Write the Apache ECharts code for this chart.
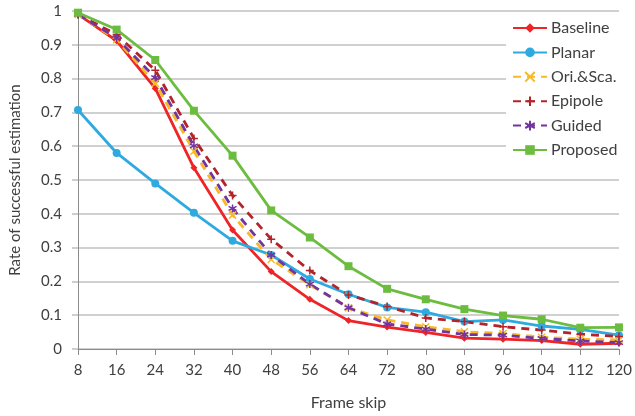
<!DOCTYPE html>
<html>
<head>
<meta charset="utf-8">
<script src="https://cdn.jsdelivr.net/npm/echarts@6/dist/echarts.min.js"></script>
<style>html,body{margin:0;padding:0;background:#fff}#c{width:635px;height:416px}</style>
</head>
<body>
<div id="c"></div>
<script>
const categories = ['8','16','24','32','40','48','56','64','72','80','88','96','104','112','120'];
const baseline = [0.99,0.912,0.771,0.536,0.352,0.229,0.147,0.084,0.065,0.049,0.032,0.029,0.025,0.014,0.017];
const planar   = [0.707,0.58,0.49,0.403,0.32,0.278,0.207,0.162,0.123,0.109,0.081,0.086,0.068,0.058,0.041];
const oriSca   = [0.99,0.915,0.786,0.585,0.396,0.265,0.19,0.122,0.086,0.066,0.051,0.046,0.035,0.029,0.027];
const epipole  = [0.99,0.93,0.825,0.623,0.454,0.325,0.232,0.16,0.126,0.092,0.081,0.066,0.056,0.044,0.037];
const guided   = [0.99,0.92,0.803,0.601,0.416,0.278,0.192,0.122,0.074,0.059,0.043,0.041,0.031,0.024,0.019];
const proposed = [0.995,0.945,0.855,0.705,0.572,0.41,0.33,0.245,0.178,0.147,0.118,0.099,0.088,0.063,0.064];
const yTicks = [0,0.1,0.2,0.3,0.4,0.5,0.6,0.7,0.8,0.9,1];

const FONT = 'Lato';
const TXT = '#404040';
const X_MARK = 'path://M0,0L10,10M10,0L0,10';
const PLUS_MARK = 'path://M5,0L5,10M0,5L10,5';
const STAR_MARK = 'path://M5,0L5,10M0,2.5L10,7.5M10,2.5L0,7.5';

function mk(name, data, color, symbol, size, dashed) {
  return {
    name: name, type: 'line', data: data,
    symbol: symbol, symbolSize: size, showSymbol: true,
    lineStyle: { color: color, width: 2.8, type: dashed ? [8, 6] : 'solid', cap: 'butt' },
    itemStyle: { color: color, borderColor: color, borderWidth: (symbol.indexOf('path') === 0) ? 1.5 : 0 },
    emphasis: { disabled: true },
    animation: false
  };
}

const chart = echarts.init(document.getElementById('c'), null, { renderer: 'canvas' });
chart.setOption({
  backgroundColor: '#fff',
  animation: false,
  grid: { left: 78, right: 15, top: 11, bottom: 67 },
  legend: {
    orient: 'vertical', left: 506, top: 18,
    backgroundColor: '#fff', padding: [2, 6, 6, 6],
    itemWidth: 34, itemHeight: 12, itemGap: 8.4,
    textStyle: { fontFamily: FONT, fontSize: 16, color: TXT, padding: [0, 0, 0, -1] },
    data: ['Baseline','Planar','Ori.&Sca.','Epipole','Guided','Proposed']
  },
  xAxis: {
    type: 'category', data: categories, boundaryGap: false,
    name: 'Frame skip', nameLocation: 'middle', nameGap: 46,
    nameTextStyle: { fontFamily: FONT, fontSize: 16, color: TXT },
    axisLine: { lineStyle: { color: '#8c8c8c', width: 1 } },
    axisTick: { show: true, length: 6, lineStyle: { color: '#8c8c8c' } },
    axisLabel: { fontFamily: FONT, fontSize: 15, color: TXT, margin: 14 },
    splitLine: { show: false }
  },
  yAxis: {
    type: 'value', min: 0, max: 1, interval: 0.1,
    name: 'Rate of successful estimation', nameLocation: 'middle', nameGap: 55,
    nameTextStyle: { fontFamily: FONT, fontSize: 15, color: TXT },
    axisLine: { show: true, lineStyle: { color: '#8c8c8c', width: 1 } },
    axisTick: { show: true, length: 6, lineStyle: { color: '#c0c0c0', width: 1.5 } },
    axisLabel: { fontFamily: FONT, fontSize: 15, color: TXT, margin: 16,
      formatter: function (v) { const t = yTicks.find(function (q) { return Math.abs(q - v) < 1e-6; }); return String(t !== undefined ? t : v); } },
    splitLine: { show: true, lineStyle: { color: '#c0c0c0', width: 1.5 } }
  },
  series: [
    mk('Baseline', baseline, '#ee2427', 'diamond', 7, false),
    mk('Planar', planar, '#2eaae1', 'circle', 8, false),
    mk('Ori.&Sca.', oriSca, '#f7b925', X_MARK, 7, true),
    mk('Epipole', epipole, '#b3242a', PLUS_MARK, 8, true),
    mk('Guided', guided, '#7234a0', STAR_MARK, 8, true),
    mk('Proposed', proposed, '#6cbd3f', 'rect', 8, false)
  ]
});
</script>
</body>
</html>
